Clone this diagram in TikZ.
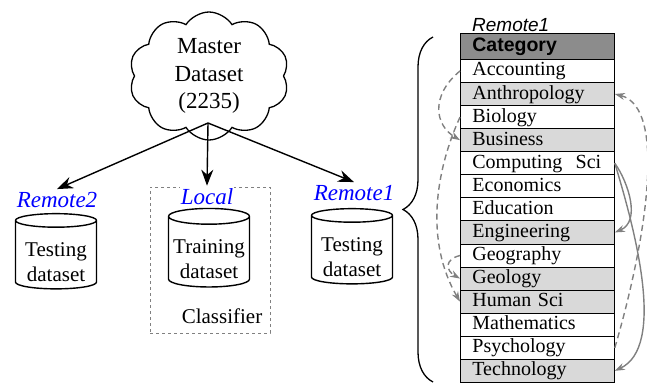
\documentclass[tikz,border=0pt]{standalone}
\usepackage{fontspec}
\setmainfont{Liberation Serif}
\newfontfamily\arialfont{Liberation Sans}
\usepackage{tikz}
\usetikzlibrary{arrows.meta}
\usetikzlibrary{shapes.geometric, shapes.symbols}
\usetikzlibrary{decorations.pathreplacing, positioning}
\colorlet{rowgray}{gray!30}
\colorlet{hdrgray}{black!45}
\newcommand{\capgap}{\rule{0pt}{29pt}}

\begin{document}
\begin{tikzpicture}[
      >=Stealth,
      x=1pt, y=-1pt,
      txt/.style={font=\fontsize{21}{25}\selectfont, align=center, inner sep=1pt},
      site/.style={font=\fontsize{23}{27}\selectfont\itshape, text=blue, fill=white, inner xsep=1pt, inner ysep=3pt},
      db/.style={txt, cylinder, shape border rotate=90, draw, line width=1.4pt, aspect=0.22,
                 minimum width=81pt, minimum height=74pt, inner sep=0pt},
      flow/.style={->, line width=1.4pt, >={Stealth[length=16pt, width=12pt]}},
      row/.style={draw, line width=0.8pt, anchor=north west, minimum width=154pt, minimum height=23.07pt,
                  text width=130pt, inner xsep=12pt, inner ysep=0pt, text height=14pt, text depth=4pt,
                  font=\fontsize{20}{23}\selectfont, align=left},
      link/.style={->, gray, line width=1.4pt, >={Stealth[length=10pt, width=7pt]}},
      hop/.style={link, dash pattern=on 6pt off 4pt}
    ]
    \useasboundingbox (0,0) rectangle (647,385);

    % Nuvola del dataset principale
    \node[cloud, draw, line width=1.3pt, cloud puffs=10, cloud puff arc=115, cloud ignores aspect,
          minimum width=160pt, minimum height=128pt, inner sep=0pt,
          font=\fontsize{23}{27.5}\selectfont, align=center] (master) at (209,76) {Master\\Dataset\\(2235)};
    \coordinate (fork) at (208,123);

    % Classificatore locale
    \node[draw=gray, dashed, line width=1pt, minimum width=120pt, minimum height=146pt] (clf) at (210,260) {};
    \node[txt] (clfname) at (222,316) {Classifier};

    % Siti
    \node[site] (rem2) at (57,200) {Remote2};
    \node[site] (loc) at (207,197) {Local};
    \node[site] (rem1) at (354,193) {Remote1};

    \node[db] (test2) at (56,255) {\capgap Testing\\dataset};
    \node[db] (train) at (209,252) {\capgap Training\\dataset};
    \node[db] (test1) at (352,250) {\capgap Testing\\dataset};

    \draw[flow] (fork) -- (rem2.north);
    \draw[flow] (fork) -- (loc.north);
    \draw[flow] (fork) -- (rem1.north);

    % Tabella delle categorie
    \node[anchor=base west, inner sep=0pt, font=\fontsize{19}{22}\selectfont\arialfont\itshape] (title) at (472,32) {Remote1};
    \node[row, fill=hdrgray, minimum height=26pt, font=\fontsize{19.5}{23}\selectfont\arialfont\bfseries] (cat) at (460,33) {Category};
    \foreach \name/\shade [count=\i] in {Accounting/white, Anthropology/rowgray, Biology/white, Business/rowgray,
        Computing~ Sci/white, Economics/white, Education/white, Engineering/rowgray, Geography/white,
        Geology/rowgray, Human Sci/rowgray, Mathematics/white, Psychology/white, Technology/rowgray}
      \node[row, fill=\shade] (r\i) at (460, {59+(\i-1)*23.07}) {\name};

    % Parentesi graffa
    \draw[line width=1.3pt, decorate, decoration={brace, amplitude=30pt}] (433,382) -- (433,37);

    % Collegamenti tra categorie
    \draw[hop] (r1.west) .. controls +(-30,25) and +(-25,-15) .. (r4.west);
    \draw[hop] (r3.west) .. controls +(-25,55) and +(-35,-60) .. (r11.west);
    \draw[hop] (r9.west) .. controls +(-16,4) and +(-14,-8) .. (r10.west);
    \draw[hop] (r13.east) .. controls +(28,-95) and +(55,14) .. (r2.east);
    \draw[link] (r5.east) .. controls +(14,20) and +(26,-11) .. (r8.east);
    \draw[link] (r5.east) .. controls +(21,69) and +(51,-24) .. (r14.east);
  \end{tikzpicture}
\end{document}
